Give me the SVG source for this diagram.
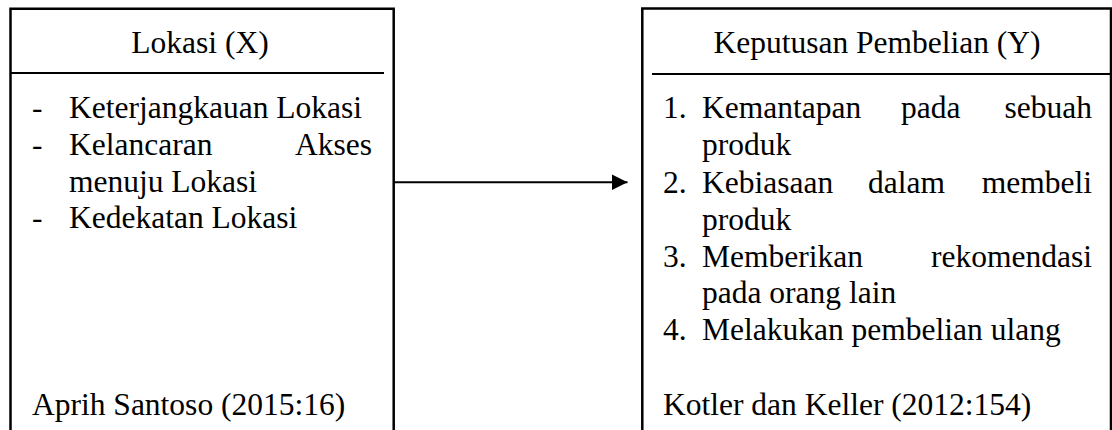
<svg xmlns="http://www.w3.org/2000/svg" width="1112" height="430" viewBox="0 0 1112 430">
<style>
  .box { fill: #ffffff; stroke: #000000; stroke-width: 2.5; }
  .sep { stroke: #000000; stroke-width: 2; fill: none; }
  .t { font-family: "Liberation Serif", "Times New Roman", serif; font-size: 31.5px; fill: #000000; }
  .mid { text-anchor: middle; }
  .end { text-anchor: end; }
  .conn { stroke: #000000; stroke-width: 2; fill: none; }
</style>
<defs>
  <marker id="arrow" markerUnits="userSpaceOnUse" markerWidth="18" markerHeight="18" refX="16" refY="8" orient="auto">
    <path d="M0,0 L16,8 L0,16 Z" fill="#000000"/>
  </marker>
</defs>
<rect x="0" y="0" width="1112" height="430" fill="#ffffff"/>

<g id="node-lokasi">
  <path class="box" d="M10.5,440 L10.5,8.7 L393.7,8.7 L393.7,440"/>
  <line class="sep" x1="10" y1="73" x2="384" y2="73"/>
  <text class="t mid" x="200" y="53">Lokasi (X)</text>
  <text class="t" x="32" y="118">-</text>
  <text class="t" x="69" y="118">Keterjangkauan Lokasi</text>
  <text class="t" x="32" y="155">-</text>
  <text class="t" x="69" y="155">Kelancaran</text>
  <text class="t end" x="372" y="155">Akses</text>
  <text class="t" x="69" y="191.5">menuju Lokasi</text>
  <text class="t" x="32" y="228">-</text>
  <text class="t" x="69" y="228">Kedekatan Lokasi</text>
  <text class="t" x="32" y="415">Aprih Santoso (2015:16)</text>
</g>

<g id="node-keputusan">
  <path class="box" d="M642.3,440 L642.3,8.5 L1111,8.5 L1111,440"/>
  <line class="sep" x1="652" y1="74" x2="1111" y2="74"/>
  <text class="t mid" x="877" y="53">Keputusan Pembelian (Y)</text>
  <text class="t" x="663" y="118">1.</text>
  <text class="t" x="702" y="118">Kemantapan</text>
  <text class="t" x="901" y="118">pada</text>
  <text class="t end" x="1092" y="118">sebuah</text>
  <text class="t" x="702" y="155">produk</text>
  <text class="t" x="663" y="192.5">2.</text>
  <text class="t" x="702" y="192.5">Kebiasaan</text>
  <text class="t" x="868" y="192.5">dalam</text>
  <text class="t end" x="1092" y="192.5">membeli</text>
  <text class="t" x="702" y="229.5">produk</text>
  <text class="t" x="663" y="266.5">3.</text>
  <text class="t" x="702" y="266.5">Memberikan</text>
  <text class="t end" x="1092" y="266.5">rekomendasi</text>
  <text class="t" x="702" y="303">pada orang lain</text>
  <text class="t" x="663" y="339.5">4.</text>
  <text class="t" x="702" y="339.5">Melakukan pembelian ulang</text>
  <text class="t" x="663" y="415">Kotler dan Keller (2012:154)</text>
</g>

<g id="connectors">
  <line class="conn" x1="394" y1="182.3" x2="627.5" y2="182.3" marker-end="url(#arrow)"/>
</g>
</svg>
